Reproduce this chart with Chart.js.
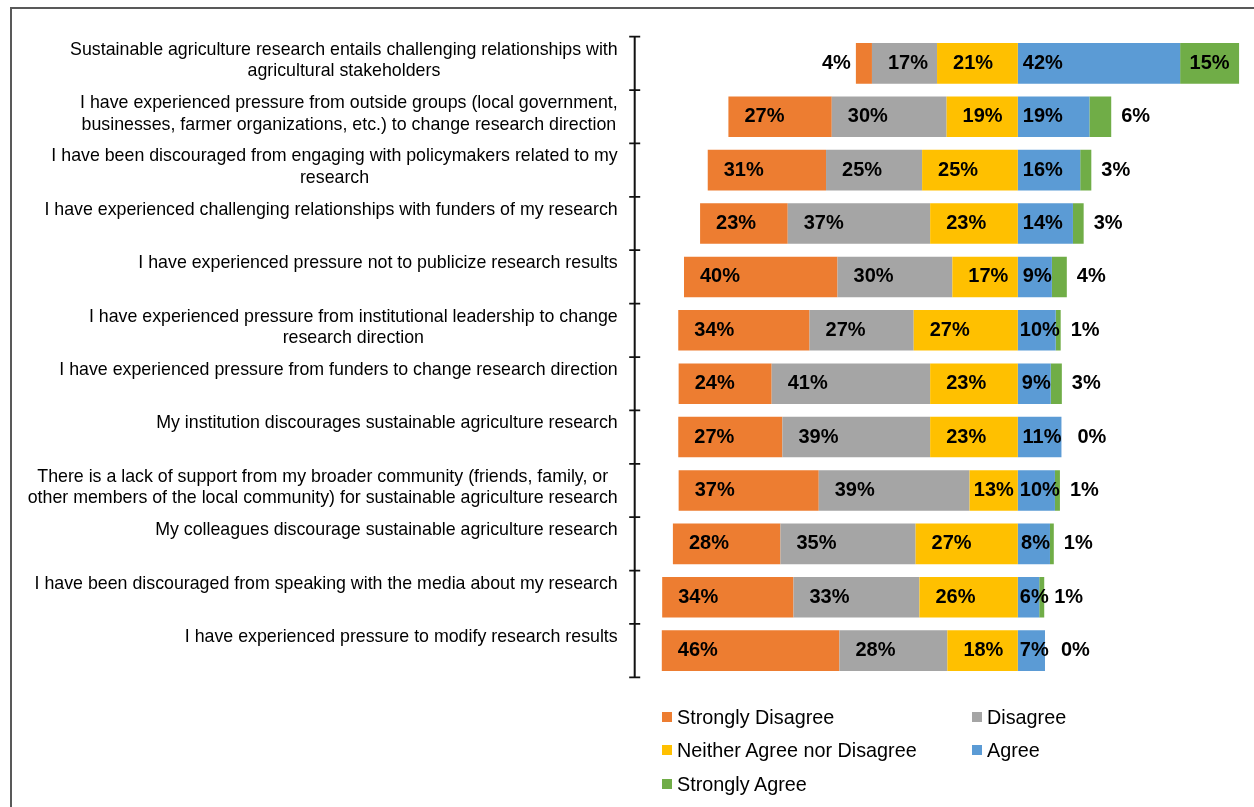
<!DOCTYPE html>
<html lang="en">
<head>
<meta charset="UTF-8">
<title>Pressures on sustainable agriculture research</title>
<script src="https://cdn.jsdelivr.net/npm/chart.js"></script>
<style>
    html, body { margin: 0; padding: 0; background: #fff; overflow: hidden; }
    #wrap { position: relative; width: 1254px; height: 807px; }
    #frame { position: absolute; left: 10px; top: 7px; width: 1300px; height: 900px;
             border-left: 2px solid #595959; border-top: 2px solid #595959; }
    #chart { position: absolute; left: 0; top: 0; }
    .leg { position: absolute; display: flex; align-items: center; height: 24px;
           font: 19.8px "Liberation Sans", Arial, sans-serif; color: #000; white-space: nowrap; }
    .leg i { display: inline-block; width: 10px; height: 10px; margin-right: 5px; }
</style>
</head>
<body>
<div id="wrap">
    <div id="frame"></div>
    <canvas id="chart" width="1254" height="807"></canvas>
</div>

<script>
    // statements, top to bottom, with the line breaks of the original
    var categories = [
        ['Sustainable agriculture research entails challenging relationships with', 'agricultural stakeholders'],
        ['I have experienced pressure from outside groups (local government,', 'businesses, farmer organizations, etc.) to change research direction'],
        ['I have been discouraged from engaging with policymakers related to my', 'research'],
        ['I have experienced challenging relationships with funders of my research'],
        ['I have experienced pressure not to publicize research results'],
        ['I have experienced pressure from institutional leadership to change', 'research direction'],
        ['I have experienced pressure from funders to change research direction'],
        ['My institution discourages sustainable agriculture research'],
        ['There is a lack of support from my broader community (friends, family, or', 'other members of the local community) for sustainable agriculture research'],
        ['My colleagues discourage sustainable agriculture research'],
        ['I have been discouraged from speaking with the media about my research'],
        ['I have experienced pressure to modify research results']
    ];

    // percentages
    var stronglyDisagree = [4.2, 27.0, 30.9, 22.9, 40.1, 34.3, 24.3, 27.2, 36.6, 28.1, 34.3, 46.4];
    var disagree         = [17.0, 30.0, 25.1, 37.2, 30.0, 27.2, 41.4, 38.6, 39.4, 35.3, 32.9, 28.2];
    var neither          = [21.1, 18.6, 25.0, 22.9, 17.1, 27.2, 22.9, 22.9, 12.6, 26.7, 25.7, 18.4];
    var agree            = [42.4, 18.7, 16.3, 14.4, 8.9, 9.9, 8.6, 11.4, 9.7, 8.4, 5.6, 7.1];
    var stronglyAgree    = [15.4, 5.7, 2.9, 2.8, 3.9, 1.3, 2.9, 0, 1.3, 1.0, 1.3, 0];

    var seriesNames = ['Strongly Disagree', 'Disagree', 'Neither Agree nor Disagree', 'Agree', 'Strongly Agree'];
    var seriesColors = ['#ED7D31', '#A5A5A5', '#FFC000', '#5B9BD5', '#70AD47'];

    var labelFont = '17.8px "Liberation Sans", Arial, sans-serif';
    var valueFont = 'bold 20px "Liberation Sans", Arial, sans-serif';

    function neg(arr) { return arr.map(v => -v); }

    // y axis line, ticks between rows and the wrapped statements
    var categoryAxis = {
        id: 'categoryAxis',
        afterDraw(chart) {
            var ctx = chart.ctx, area = chart.chartArea, ys = chart.scales.y;
            var n = categories.length;
            var rowH = (area.bottom - area.top) / n;
            var ax = area.left - 0.3;
            ctx.save();
            ctx.strokeStyle = '#111';
            ctx.lineWidth = 2;
            ctx.beginPath();
            ctx.moveTo(ax, area.top);
            ctx.lineTo(ax, area.bottom);
            ctx.stroke();
            ctx.lineWidth = 1.75;
            ctx.beginPath();
            for (var k = 0; k <= n; k++) {
                var ty = area.top + k * rowH;
                ctx.moveTo(ax - 5.5, ty);
                ctx.lineTo(ax + 5.5, ty);
            }
            ctx.stroke();

            ctx.font = labelFont;
            ctx.fillStyle = '#000';
            ctx.textAlign = 'center';
            ctx.textBaseline = 'alphabetic';
            var rightEdge = ax - 17;
            categories.forEach((lines, i) => {
                var top = ys.getPixelForValue(i) - rowH / 2;
                var maxW = Math.max(...lines.map(l => ctx.measureText(l).width));
                var cx = rightEdge - maxW / 2;
                lines.forEach((l, j) => ctx.fillText(l, cx, top + 18 + j * 21.7));
            });
            ctx.restore();
        }
    };

    // percentage labels on the segments
    var valueLabels = {
        id: 'valueLabels',
        afterDatasetsDraw(chart) {
            var ctx = chart.ctx;
            var agreeMeta = chart.getDatasetMeta(3);
            ctx.save();
            ctx.font = valueFont;
            ctx.fillStyle = '#000';
            ctx.textAlign = 'left';
            ctx.textBaseline = 'middle';
            chart.data.datasets.forEach((ds, di) => {
                var meta = chart.getDatasetMeta(di);
                meta.data.forEach((bar, i) => {
                    var v = ds.raw[i];
                    var text = Math.round(v) + '%';
                    var w = ctx.measureText(text).width;
                    var left = Math.min(bar.x, bar.base), right = Math.max(bar.x, bar.base);
                    var bw = right - left;
                    var tx;
                    if (ds.kind === 'sd') {
                        if (w + 16 <= bw) tx = left + 16;
                        else if (w <= bw) tx = left + (bw - w) / 2;
                        else tx = left - 5 - w;
                    } else if (ds.kind === 'mid') {
                        tx = left + 16;
                        if (tx + w > right - 4) tx = right - 4 - w;
                    } else if (ds.kind === 'agree') {
                        tx = left + Math.max(2, Math.min(5, bw - w));
                    } else if (v === 0) {
                        // nothing to stand on: put it after the agree bar
                        var ab = agreeMeta.data[i];
                        tx = Math.max(ab.x, ab.base) + 16;
                    } else {
                        if (w + 8 <= bw) tx = left + (bw - w) / 2;
                        else tx = right + 10;
                    }
                    ctx.fillText(text, tx, bar.y);
                });
            });
            ctx.restore();
        }
    };

    var ctx = document.getElementById('chart').getContext('2d');
    var chart = new Chart(ctx, {
        type: 'bar',
        data: {
            labels: categories.map(c => c.join(' ')),
            // negative side stacks outward from zero: neither, disagree, strongly disagree
            datasets: [
                { label: seriesNames[2], data: neg(neither), raw: neither, kind: 'mid', backgroundColor: seriesColors[2] },
                { label: seriesNames[1], data: neg(disagree), raw: disagree, kind: 'mid', backgroundColor: seriesColors[1] },
                { label: seriesNames[0], data: neg(stronglyDisagree), raw: stronglyDisagree, kind: 'sd', backgroundColor: seriesColors[0] },
                { label: seriesNames[3], data: agree, raw: agree, kind: 'agree', backgroundColor: seriesColors[3] },
                { label: seriesNames[4], data: stronglyAgree, raw: stronglyAgree, kind: 'sa', backgroundColor: seriesColors[4] }
            ]
        },
        options: {
            indexAxis: 'y',
            responsive: false,
            animation: false,
            layout: { padding: { left: 635, right: 6.5, top: 36.7, bottom: 129.7 } },
            datasets: { bar: { categoryPercentage: 1, barPercentage: 0.76, borderWidth: 0 } },
            plugins: { legend: { display: false }, tooltip: { enabled: false } },
            scales: {
                x: { stacked: true, min: -100, max: 60, display: false },
                y: { stacked: true, display: false }
            }
        },
        plugins: [categoryAxis, valueLabels]
    });

    // legend in two columns, as in the original
    var legendCols = [662, 972];
    var legendRows = [717, 750, 784];
    var wrap = document.getElementById('wrap');
    seriesNames.forEach((name, i) => {
        var el = document.createElement('div');
        el.className = 'leg';
        el.style.left = legendCols[i % 2] + 'px';
        el.style.top = (legendRows[Math.floor(i / 2)] - 12) + 'px';
        el.innerHTML = '<i style="background:' + seriesColors[i] + '"></i>' + name;
        wrap.appendChild(el);
    });
</script>
</body>
</html>
